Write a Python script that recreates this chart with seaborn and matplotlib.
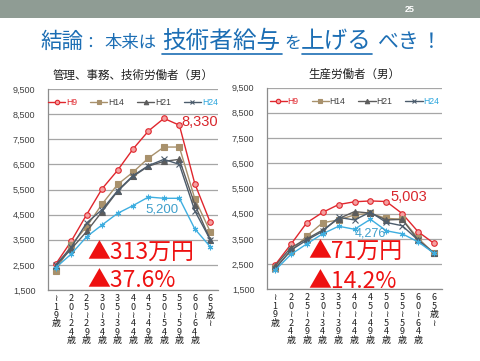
import numpy as np
import pandas as pd
import matplotlib
matplotlib.use('Agg')
import matplotlib.pyplot as plt
from matplotlib.lines import Line2D
from matplotlib.patches import Rectangle
from matplotlib.ticker import FuncFormatter, FixedLocator
import seaborn as sns

sns.set_style('white')
plt.rcParams['font.family'] = ['Noto Sans CJK JP', 'DejaVu Sans']

# 年齢階級
edades = ['～19歳', '20～24歳', '25～29歳', '30～34歳', '35～39歳', '40～44歳',
          '45～49歳', '50～54歳', '55～59歳', '60～64歳', '65歳～']

# 管理、事務、技術労働者（男） 千円
izq_h9 = [2530, 3440, 4500, 5530, 6260, 7110, 7830, 8330, 8060, 5730, 4190]
izq_h14 = [2270, 3290, 4020, 4920, 5700, 6190, 6750, 7190, 7190, 5130, 3820]
izq_h21 = [2460, 3130, 3830, 4620, 5430, 6020, 6430, 6620, 6700, 4900, 3500]
izq_h24 = [2500, 3200, 4170, 4700, 5450, 6050, 6450, 6700, 6500, 4650, 3500]
izq_tec = [2390, 2930, 3620, 4090, 4550, 4860, 5200, 5150, 5150, 3930, 3220]

# 生産労働者（男）
der_h9 = [2460, 3280, 4140, 4550, 4860, 4970, 5003, 4980, 4500, 3780, 3320]
der_h14 = [2350, 3020, 3610, 4140, 4250, 4450, 4510, 4310, 4280, 3520, 2930]
der_h21 = [2420, 3150, 3500, 3850, 4300, 4580, 4520, 4250, 4270, 3450, 2930]
der_h24 = [2300, 3050, 3450, 3800, 4350, 4250, 4560, 4150, 4020, 3450, 2930]
der_tec = [2250, 2880, 3300, 3700, 4000, 3880, 4276, 3820, 3700, 3380, 2930]

series = ['H9', 'H14', 'H21', 'H24', '']
colores = ['#E0262D', '#A8916C', '#5C5C5C', '#4C5C6C', '#3EAEE0']
marcadores = ['o', 's', '^', 'x', (6, 2, 0)]
color_leyenda = ['#E0262D', '#404040', '#404040', '#2AA5DD']

px = lambda x: x / 480
py = lambda y: 1 - y / 361

fig = plt.figure(figsize=(4.8, 3.61), dpi=100)
fig.patch.set_facecolor('white')

# franja superior
fig.add_artist(Rectangle((0, py(18)), 1, 18 / 361, transform=fig.transFigure,
                         facecolor='#8F9C94', edgecolor='none'))
fig.text(px(410), py(9), '25', color='white', fontsize=6.5, fontweight='bold',
         ha='center', va='center', family='Liberation Sans')

# titulo con tamaños mezclados
azul = '#1C6EB4'
trozos = [('結論', 40, 15.5), ('：', 82, 11.5), ('本来は', 104, 12.5), ('技術者給与', 162, 17),
          ('を', 284, 12), ('上げる', 301, 17), ('べき', 377, 15), ('！', 421, 15)]
for txt, x, fs in trozos:
    fig.text(px(x), py(48), txt, color=azul, fontsize=fs, ha='left', va='baseline')
for x0, x1 in [(162, 282), (302, 372)]:
    fig.add_artist(Line2D([px(x0), px(x1)], [py(53.5), py(53.5)], color=azul, lw=1.2,
                          transform=fig.transFigure))


def panel(rect, datos, titulo, etiquetas, grandes):
    ax = fig.add_axes(rect)
    x = np.arange(len(edades))
    for i, nombre in enumerate(series):
        df = pd.DataFrame({'x': x, 'v': datos[i]})
        face = '#F4A0A0' if i == 0 else colores[i]
        sns.lineplot(data=df, x='x', y='v', ax=ax, color=colores[i], lw=1,
                     marker=marcadores[i], markersize=4, markerfacecolor=face,
                     markeredgecolor=colores[i], markeredgewidth=0.8,
                     label=nombre if nombre else '_nolegend_', zorder=3 + i)
    ax.set_xlim(-0.5, len(edades) - 0.5)
    ax.set_ylim(1500, 9500)
    ax.set_yticks(np.arange(1500, 9501, 1000))
    ax.yaxis.set_major_formatter(FuncFormatter(lambda v, p: f'{int(v):,}'))
    ax.grid(axis='y', color='#A6A6A6', lw=0.9)
    ax.set_axisbelow(True)
    for s in ['top', 'right']:
        ax.spines[s].set_visible(False)
    for s in ['left', 'bottom']:
        ax.spines[s].set_color('#8C8C8C')
        ax.spines[s].set_linewidth(0.9)
    ax.set_xticks(x)
    ax.set_xticklabels(['\n'.join(e.replace('～', '≀')) for e in edades],
                       fontsize=6.5, va='top', linespacing=0.92, color='#202020')
    ax.tick_params(axis='x', length=0, pad=3)
    ax.xaxis.set_minor_locator(FixedLocator(np.arange(-0.5, len(edades), 1)))
    ax.tick_params(axis='x', which='minor', length=4, color='#8C8C8C', width=0.8)
    ax.tick_params(axis='y', length=0, pad=9, labelsize=6.5, labelcolor='#404040')
    for lab in ax.get_yticklabels():
        lab.set_family('Liberation Sans')
    ax.set_xlabel('')
    ax.set_ylabel('')
    leg = ax.legend(loc='upper center', bbox_to_anchor=(0.5, 0.98), ncol=4, frameon=False,
                    fontsize=6.2, handlelength=2.0, columnspacing=1.5, handletextpad=0.1,
                    borderaxespad=0.2, markerscale=0.8)
    for t, c in zip(leg.get_texts(), color_leyenda):
        t.set_color(c)
        t.set_family('Liberation Sans')
    ax.set_title(titulo, fontsize=8.3, color='#202020', pad=7)
    for txt, xi, yi, c, fs in etiquetas:
        ax.text(xi, yi, txt, color=c, fontsize=fs, ha='left', va='center',
                family='Liberation Sans', zorder=10)
    for txt, xi, yi in grandes:
        ax.text(xi, yi, txt, color='#EE1111', fontsize=16.5, ha='left', va='center', zorder=10)
    return ax


panel([px(48), py(290), 170 / 480, 201 / 361],
      [izq_h9, izq_h14, izq_h21, izq_h24, izq_tec],
      '管理、事務、技術労働者（男）',
      [('8,330', 8.15, 8190, '#D8262C', 10.5), ('5,200', 5.8, 4690, '#3E9FCB', 9.5)],
      [('▲313万円', 2.05, 2950), ('▲37.6%', 2.05, 1860)])

panel([px(267), py(289.3), 175 / 480, 201.8 / 361],
      [der_h9, der_h14, der_h21, der_h24, der_tec],
      '生産労働者（男）',
      [('5,003', 7.25, 5170, '#D8262C', 10.5), ('4,276', 5.0, 3700, '#3E9FCB', 9)],
      [('▲71万円', 2.1, 2960), ('▲14.2%', 2.1, 1800)])

fig.savefig('out.png', dpi=100, facecolor='white')
